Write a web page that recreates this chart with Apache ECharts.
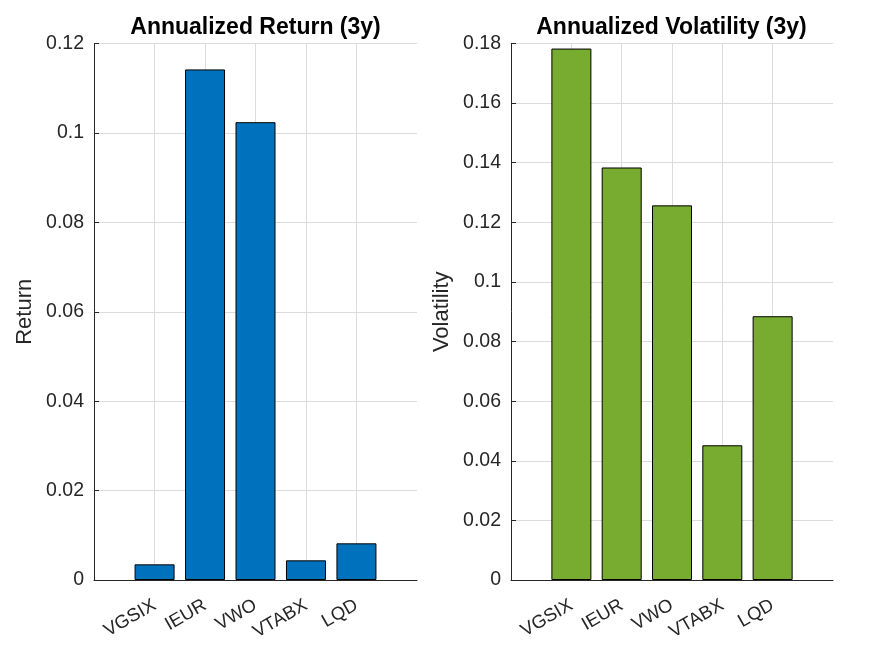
<!DOCTYPE html>
<html>
<head>
<meta charset="utf-8">
<script src="https://cdn.jsdelivr.net/npm/echarts@6/dist/echarts.min.js"></script>
<style>html,body{margin:0;padding:0;background:#fff}#c{width:875px;height:656px}</style>
</head>
<body>
<div id="c"></div>
<script>
const categories = ['VGSIX', 'IEUR', 'VWO', 'VTABX', 'LQD'];
const returnValues = [0.0035, 0.1142, 0.1024, 0.0044, 0.0082];
const volatilityValues = [0.1783, 0.1384, 0.1257, 0.0452, 0.0885];
const returnTicks = [0, 0.02, 0.04, 0.06, 0.08, 0.1, 0.12];
const volatilityTicks = [0, 0.02, 0.04, 0.06, 0.08, 0.1, 0.12, 0.14, 0.16, 0.18];
const titles = ['Annualized Return (3y)', 'Annualized Volatility (3y)'];
const yNames = ['Return', 'Volatility'];

const FONT = 'Liberation Sans, Arial, Helvetica, sans-serif';
const TXT = '#262626';
const GRIDC = '#dcdcdc';
const positions = categories.map((c, i) => i + 1);

function xAxis(gi) {
  return {
    gridIndex: gi, type: 'value', min: -0.2, max: 6.2,
    axisLine: { show: true, onZero: false, lineStyle: { color: TXT, width: 1 } },
    axisTick: { show: true, inside: true, length: 5, customValues: positions, lineStyle: { color: TXT } },
    axisLabel: {
      customValues: positions, rotate: 30, fontFamily: FONT, fontSize: 18.5, color: TXT, margin: 24,
      formatter: v => categories[Math.round(v) - 1] || ''
    },
    splitLine: { show: true, lineStyle: { color: GRIDC, width: 1 } }
  };
}
function yAxis(gi, ticks, name) {
  return {
    gridIndex: gi, type: 'value', min: ticks[0], max: ticks[ticks.length - 1],
    interval: ticks[1] - ticks[0],
    name: name, nameLocation: 'middle', nameGap: 58, nameRotate: 90,
    nameTextStyle: { fontFamily: FONT, fontSize: 22, color: TXT },
    axisLine: { show: true, onZero: false, lineStyle: { color: TXT, width: 1 } },
    axisTick: { show: true, inside: true, length: 5, lineStyle: { color: TXT } },
    axisLabel: { fontFamily: FONT, fontSize: 19.5, color: TXT, margin: 10,
      formatter: v => String(+v.toFixed(4)) },
    splitLine: { show: true, lineStyle: { color: GRIDC, width: 1 } }
  };
}

const chart = echarts.init(document.getElementById('c'), null, { renderer: 'canvas' });
chart.setOption({
  backgroundColor: '#fff',
  animation: false,
  title: [
    { text: titles[0], left: 255.5, top: 16, padding: 0, textAlign: 'center',
      textStyle: { fontFamily: FONT, fontSize: 23, fontWeight: 'bold', color: '#000' } },
    { text: titles[1], left: 671.5, top: 16, padding: 0, textAlign: 'center',
      textStyle: { fontFamily: FONT, fontSize: 23, fontWeight: 'bold', color: '#000' } }
  ],
  grid: [
    { left: 94, width: 323, top: 43.5, bottom: 76 },
    { left: 511, width: 322, top: 43.5, bottom: 76 }
  ],
  xAxis: [xAxis(0), xAxis(1)],
  yAxis: [yAxis(0, returnTicks, yNames[0]), yAxis(1, volatilityTicks, yNames[1])],
  series: [
    { type: 'bar', xAxisIndex: 0, yAxisIndex: 0, barWidth: 40,
      data: positions.map((p, i) => [p, returnValues[i]]),
      itemStyle: { color: '#0072BD', borderColor: '#000', borderWidth: 1 } },
    { type: 'bar', xAxisIndex: 1, yAxisIndex: 1, barWidth: 40,
      data: positions.map((p, i) => [p, volatilityValues[i]]),
      itemStyle: { color: '#77AC30', borderColor: '#000', borderWidth: 1 } }
  ]
});
</script>
</body>
</html>
